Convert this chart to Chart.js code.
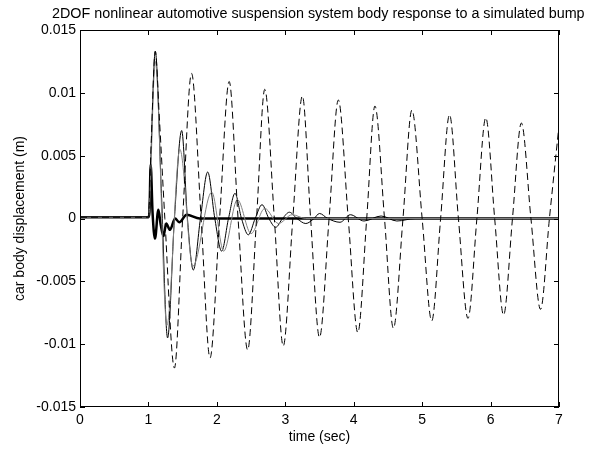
<!DOCTYPE html>
<html>
<head>
<meta charset="utf-8">
<script src="https://cdn.jsdelivr.net/npm/chart.js@4/dist/chart.umd.min.js"></script>
<style>
html,body{margin:0;padding:0;background:#fff;}
canvas{display:block;}
</style>
</head>
<body>
<canvas id="c" width="601" height="449"></canvas>
<script>
// ---- data ----
const chartTitle = '2DOF nonlinear automotive suspension system body response to a simulated bump';
const xTitle = 'time (sec)';
const yTitle = 'car body displacement (m)';
const xTickValues = [0, 1, 2, 3, 4, 5, 6, 7];
const xTickLabels = ['0', '1', '2', '3', '4', '5', '6', '7'];
const yTickValues = [-0.015, -0.01, -0.005, 0, 0.005, 0.01, 0.015];
const yTickLabels = ['-0.015', '-0.01', '-0.005', '0', '0.005', '0.01', '0.015'];

// dashed response (lightly damped)
const dashedT = [0, 1.0, 1.04, 1.1, 1.16, 1.24, 1.38, 1.5, 1.63, 1.77, 1.9, 2.04, 2.18, 2.31, 2.45, 2.58, 2.7, 2.84, 2.97, 3.11, 3.25, 3.37, 3.5, 3.64, 3.775, 3.92, 4.06, 4.19, 4.31, 4.45, 4.58, 4.72, 4.85, 5.0, 5.14, 5.27, 5.4, 5.53, 5.67, 5.8, 5.93, 6.06, 6.19, 6.32, 6.45, 6.59, 6.73, 6.86, 7.0];
const dashedY = [0.0001, 0.0001, 0.006, 0.0133, 0.008, 0, -0.0119, 0, 0.01155, 0, -0.0111, 0, 0.0109, 0, -0.01046, 0, 0.01028, 0, -0.01015, 0, 0.00975, 0, -0.00946, 0, 0.00943, 0, -0.00908, 0, 0.00895, 0, -0.00874, 0, 0.00863, 0, -0.00815, 0, 0.00826, 0, -0.00795, 0, 0.00802, 0, -0.00768, 0, 0.0076, 0, -0.00723, 0, 0.0074];

// thin solid response
const solidT = [0, 1.0, 1.03, 1.1, 1.19, 1.28, 1.38, 1.486, 1.57, 1.656, 1.76, 1.866, 1.97, 2.07, 2.17, 2.265, 2.36, 2.46, 2.56, 2.66, 2.76, 2.86, 2.96, 3.06, 3.17, 3.3, 3.42, 3.5, 3.62, 3.8, 3.95, 4.15, 4.4, 4.63, 4.9, 7.0];
const solidY = [0.0001, 0.0001, 0.004, 0.0133, 0.002, -0.0095, 0, 0.007, 0, -0.0041, 0, 0.0037, 0, -0.0026, 0, 0.002, 0, -0.0013, 0, 0.0011, 0, -0.0007, 0, 0.0005, 0, -0.0004, 0, 0.0004, 0, -0.0003, 0.0003, -0.0002, 0.0002, -0.0002, 0, 0];

// grey thin response
const greyT = [0, 1.0, 1.1, 1.27, 1.46, 1.65, 1.925, 2.1, 2.3, 2.5, 2.7, 2.9, 3.1, 3.3, 7.0];
const greyY = [0.0001, 0.0001, 0.0125, -0.0085, 0.0055, -0.0038, 0.0021, -0.0026, 0.0015, -0.0012, 0.0008, -0.0004, 0.0003, 0, 0];

// thick solid response
const thickT = [0, 1.0, 1.015, 1.033, 1.06, 1.096, 1.145, 1.18, 1.22, 1.26, 1.315, 1.39, 1.45, 1.56, 1.75, 2.0, 7.0];
const thickY = [0.0001, 0.0001, 0.0005, 0.0043, 0.0005, -0.0016, 0.0007, -0.0005, -0.0014, -0.0004, -0.0009, 0, -0.0003, 0.0003, 0, 0, 0];

const pts = (t, y) => t.map((v, i) => ({x: v, y: y[i]}));

const FONT = '"Liberation Sans", Arial, sans-serif';

const framePlugin = {
  id: 'frame',
  afterDraw(chart) {
    const {ctx, chartArea: a, scales: {x, y}} = chart;
    ctx.save();
    ctx.strokeStyle = '#000';
    ctx.lineWidth = 1;
    ctx.strokeRect(a.left + 0.5, a.top + 0.5, a.right - a.left - 1, a.bottom - a.top - 1);
    ctx.beginPath();
    const L = 5;
    xTickValues.forEach(v => {
      const p = Math.round(x.getPixelForValue(v)) + 0.5;
      ctx.moveTo(p, a.bottom); ctx.lineTo(p, a.bottom - L);
      ctx.moveTo(p, a.top); ctx.lineTo(p, a.top + L);
    });
    yTickValues.forEach(v => {
      const p = Math.round(y.getPixelForValue(v)) + 0.5;
      ctx.moveTo(a.left, p); ctx.lineTo(a.left + L, p);
      ctx.moveTo(a.right, p); ctx.lineTo(a.right - L, p);
    });
    ctx.stroke();
    // title: spans x 52..585 in the reference
    ctx.fillStyle = '#000';
    ctx.font = '14px ' + FONT;
    const w = ctx.measureText(chartTitle).width;
    const size = Math.max(12, Math.min(16, 14 * 533 / w));
    ctx.font = size.toFixed(2) + 'px ' + FONT;
    ctx.textAlign = 'left';
    ctx.textBaseline = 'middle';
    ctx.fillText(chartTitle, 52, 14);
    ctx.restore();
  }
};

new Chart(document.getElementById('c'), {
  type: 'line',
  data: {
    datasets: [
      {data: pts(dashedT, dashedY), borderColor: '#000', borderWidth: 1, borderDash: [7, 4]},
      {data: pts(greyT, greyY), borderColor: '#808080', borderWidth: 1},
      {data: pts(solidT, solidY), borderColor: '#000', borderWidth: 1},
      {data: pts(thickT, thickY), borderColor: '#000', borderWidth: 2.5}
    ]
  },
  options: {
    responsive: false,
    animation: false,
    devicePixelRatio: 1,
    elements: {
      point: {radius: 0},
      line: {cubicInterpolationMode: 'monotone', fill: false}
    },
    layout: {padding: {left: 0, right: 42, top: 30, bottom: 0}},
    plugins: {
      legend: {display: false},
      tooltip: {enabled: false},
      title: {display: false}
    },
    scales: {
      x: {
        type: 'linear',
        min: 0, max: 7,
        grid: {display: false, drawTicks: false},
        border: {display: false},
        afterBuildTicks: s => { s.ticks = xTickValues.map(v => ({value: v})); },
        afterFit: s => { s.height = 42; },
        ticks: {
          color: '#000',
          font: {family: FONT, size: 14},
          padding: 5,
          maxRotation: 0,
          callback: (v) => xTickLabels[xTickValues.indexOf(v)]
        },
        title: {display: true, text: xTitle, color: '#000', font: {family: FONT, size: 14}, padding: {top: 0, bottom: 3}}
      },
      y: {
        type: 'linear',
        min: -0.015, max: 0.015,
        grid: {display: false, drawTicks: false},
        border: {display: false},
        afterBuildTicks: s => { s.ticks = yTickValues.map(v => ({value: v})); },
        afterFit: s => { s.width = 80; },
        ticks: {
          color: '#000',
          font: {family: FONT, size: 14},
          padding: 4,
          callback: (v) => yTickLabels[yTickValues.indexOf(v)]
        },
        title: {display: true, text: yTitle, color: '#000', font: {family: FONT, size: 14}, padding: {top: 12, bottom: 0}}
      }
    }
  },
  plugins: [framePlugin]
});
</script>
</body>
</html>
